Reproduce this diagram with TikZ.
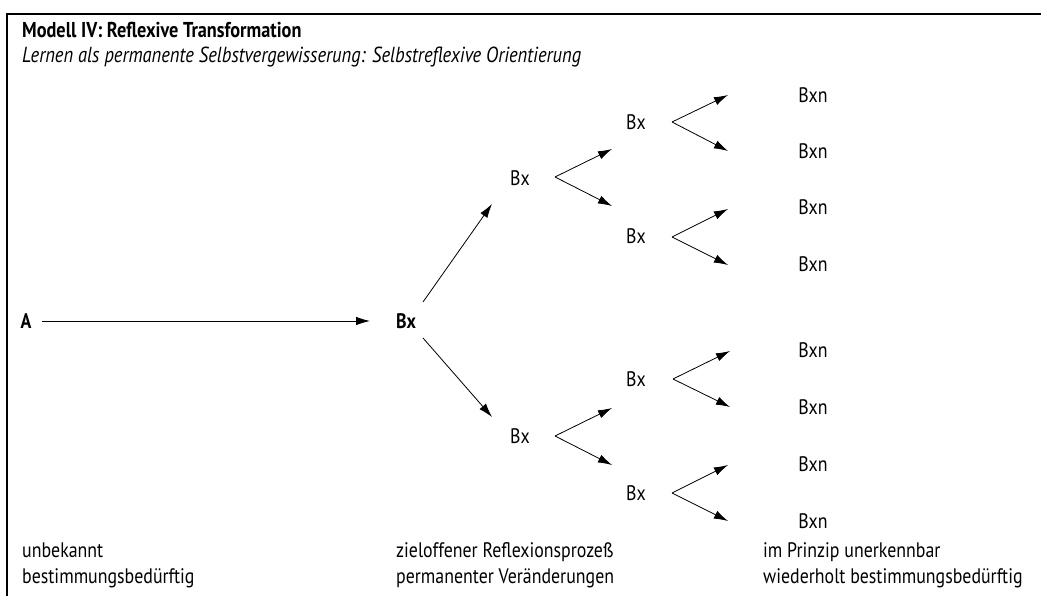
\documentclass[tikz,border=0pt]{standalone}
\usepackage{fontspec}
\setmainfont[FakeStretch=0.85]{PT Sans}
\usetikzlibrary{arrows.meta}
\begin{document}
\begin{tikzpicture}[x=1pt,y=-1pt,
  lab/.style={inner sep=0pt,font=\fontsize{21}{24}\selectfont},
  blab/.style={inner sep=0pt,font=\fontsize{21}{24}\selectfont\bfseries},
  txt/.style={inner sep=0pt,anchor=base west,font=\fontsize{21}{24}\selectfont},
  arr/.style={line width=0.8pt,-{Latex[length=14pt,width=8.5pt]}},
  frame/.style={line width=1.1pt}]
\useasboundingbox (0,0) rectangle (1041,596);
% frame
\draw[frame] (7,596) -- (7,14) -- (1041,14);
% headings
\node[txt,font=\fontsize{21.5}{25}\selectfont\bfseries] (title) at (22,38) {Modell IV: Reflexive Transformation};
\node[txt,font=\fontsize{21.8}{24}\selectfont\itshape] (sub) at (22,63) {Lernen als permanente Selbstvergewisserung: Selbstreflexive Orientierung};
% nodes
\node[blab] (A) at (26,321) {A};
\node[blab] (B1) at (406,321) {Bx};
\node[lab] (B2a) at (520,178) {Bx};
\node[lab] (B2b) at (520,436) {Bx};
\node[lab] (B3a) at (636,122) {Bx};
\node[lab] (B3b) at (636,236) {Bx};
\node[lab] (B3c) at (636,379) {Bx};
\node[lab] (B3d) at (636,493) {Bx};
\node[lab] (N1) at (813,95) {Bxn};
\node[lab] (N2) at (813,151) {Bxn};
\node[lab] (N3) at (813,207) {Bxn};
\node[lab] (N4) at (813,264) {Bxn};
\node[lab] (N5) at (813,350) {Bxn};
\node[lab] (N6) at (813,407) {Bxn};
\node[lab] (N7) at (813,464) {Bxn};
\node[lab] (N8) at (813,521) {Bxn};
% connector coordinates
\coordinate (a0) at (42,321);   \coordinate (a1) at (370,321);
\coordinate (u0) at (423,302);  \coordinate (u1) at (492,204);
\coordinate (d0) at (423,338);  \coordinate (d1) at (492,417);
\coordinate (v2a) at (555,177); \coordinate (t2a1) at (612,149); \coordinate (t2a2) at (612,206);
\coordinate (v2b) at (555,436); \coordinate (t2b1) at (612,408); \coordinate (t2b2) at (612,465);
\coordinate (v3a) at (672,122); \coordinate (t3a1) at (728,95);  \coordinate (t3a2) at (728,151);
\coordinate (v3b) at (672,237); \coordinate (t3b1) at (728,209); \coordinate (t3b2) at (728,265);
\coordinate (v3c) at (673,379); \coordinate (t3c1) at (730,351); \coordinate (t3c2) at (730,407);
\coordinate (v3d) at (672,493); \coordinate (t3d1) at (728,465); \coordinate (t3d2) at (728,521);
% connectors
\draw[arr] (a0) -- (a1);
\draw[arr] (u0) -- (u1);
\draw[arr] (d0) -- (d1);
\draw[arr] (v2a) -- (t2a1); \draw[arr] (v2a) -- (t2a2);
\draw[arr] (v2b) -- (t2b1); \draw[arr] (v2b) -- (t2b2);
\draw[arr] (v3a) -- (t3a1); \draw[arr] (v3a) -- (t3a2);
\draw[arr] (v3b) -- (t3b1); \draw[arr] (v3b) -- (t3b2);
\draw[arr] (v3c) -- (t3c1); \draw[arr] (v3c) -- (t3c2);
\draw[arr] (v3d) -- (t3d1); \draw[arr] (v3d) -- (t3d2);
% bottom texts
\node[txt] (c1a) at (22,557) {unbekannt};
\node[txt] (c1b) at (22,583) {bestimmungsbedürftig};
\node[txt] (c2a) at (396,557) {zieloffener Reflexionsprozeß};
\node[txt] (c2b) at (396,583) {permanenter Veränderungen};
\node[txt] (c3a) at (763,557) {im Prinzip unerkennbar};
\node[txt] (c3b) at (763,583) {wiederholt bestimmungsbedürftig};
\end{tikzpicture}
\end{document}
